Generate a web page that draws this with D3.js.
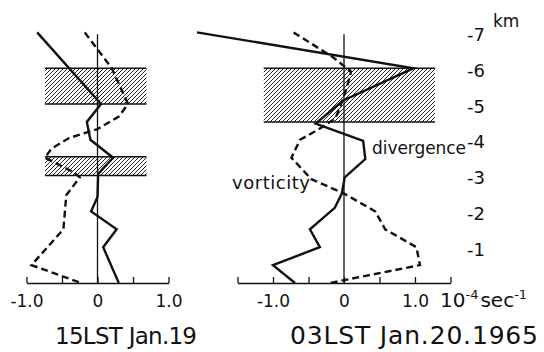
<!DOCTYPE html>
<html>
<head>
<meta charset="utf-8">
<script src="https://cdn.jsdelivr.net/npm/d3@7"></script>
<style>
  body { margin: 0; background: #fff; }
  text { font-family: "DejaVu Sans", sans-serif; fill: #111; }
</style>
</head>
<body>
<div id="chart"></div>
<script>
// heights in km, values in 10^-4 sec^-1
const leftDivH   = [7, 5, 4.5, 4.0, 3.5, 3.05, 2.4, 2.0, 1.5, 1.0, 0];
const leftDivV   = [-0.85, 0.05, -0.15, -0.1, 0.22, 0.01, 0, -0.09, 0.27, 0.08, 0.3];
const leftVorH   = [7, 6, 5, 4.65, 4.3, 4.05, 3.75, 3.5, 3.1, 2.95, 2.45, 1.5, 0.5, 0];
const leftVorV   = [-0.18, 0.2, 0.43, 0.3, 0, -0.4, -0.65, -0.74, -0.34, -0.25, -0.44, -0.48, -0.93, -0.23];
const rightDivH  = [7, 6, 5.1, 4.45, 3.97, 3.46, 2.95, 2.5, 2.1, 1.5, 1.0, 0.5, 0];
const rightDivV  = [-2.07, 0.98, -0.01, -0.4, 0.27, 0.3, 0.01, -0.03, -0.13, -0.48, -0.34, -1.0, -0.69];
const rightVorH  = [7, 6.3, 5.9, 5.4, 4.95, 4.6, 4.3, 4.0, 3.5, 2.9, 2.5, 2.0, 1.5, 1.0, 0.5, 0];
const rightVorV  = [-0.71, -0.15, 0.1, 0.03, -0.05, -0.12, -0.35, -0.62, -0.74, -0.46, 0, 0.44, 0.58, 1.02, 1.07, -0.2];

// shaded layers: [bottom km, top km, left value, right value]
const leftBands  = [[5, 6, -0.74, 0.69], [3, 3.53, -0.74, 0.69]];
const rightBands = [[4.5, 6, -1.13, 1.28]];

const heightTicks = [7, 6, 5, 4, 3, 2, 1];
const leftTicks  = [-1, -0.5, 0, 0.5, 1];
const rightTicks = [-1.5, -1, -0.5, 0, 0.5, 1, 1.5];
const tickLabels = {'-1': '-1.0', '0': '0', '1': '1.0'};

const W = 544, H = 352;
const svg = d3.select('#chart').append('svg').attr('width', W).attr('height', H);

const defs = svg.append('defs');
defs.append('pattern')
    .attr('id', 'hatch')
    .attr('patternUnits', 'userSpaceOnUse')
    .attr('width', 4).attr('height', 4)
  .append('path')
    .attr('d', 'M-1,1 l2,-2 M0,4 l4,-4 M3,5 l2,-2')
    .attr('stroke', '#222')
    .attr('stroke-width', 1);

const y = d3.scaleLinear().domain([0, 7]).range([283, 32.4]);
const xL = d3.scaleLinear().domain([-1, 1]).range([26.5, 168.5]);
const xR = d3.scaleLinear().domain([-1.5, 1.5]).range([237.5, 450.5]);

function zip(hs, vs) {
  return hs.map((h, i) => ({h: h, v: vs[i]}));
}

function panel(x, ticks, bands, divH, divV, vorH, vorV) {
  const g = svg.append('g');

  bands.forEach(b => {
    g.append('rect')
        .attr('x', x(b[2]))
        .attr('y', y(b[1]))
        .attr('width', x(b[3]) - x(b[2]))
        .attr('height', y(b[0]) - y(b[1]))
        .attr('fill', 'url(#hatch)');
    [b[0], b[1]].forEach(h => {
      g.append('line')
          .attr('x1', x(b[2])).attr('x2', x(b[3]))
          .attr('y1', y(h)).attr('y2', y(h))
          .attr('stroke', '#111')
          .attr('stroke-width', 1.5);
    });
  });

  // zero line
  g.append('line')
      .attr('x1', x(0)).attr('x2', x(0))
      .attr('y1', y(0)).attr('y2', y(6.95))
      .attr('stroke', '#111')
      .attr('stroke-width', 1.3);

  const axis = d3.axisBottom(x)
      .tickValues(ticks)
      .tickSizeInner(-6)
      .tickSizeOuter(0)
      .tickPadding(12)
      .tickFormat(d => tickLabels[String(d)] || '');

  const ax = g.append('g')
      .attr('transform', 'translate(0,' + y(0) + ')')
      .call(axis);
  ax.select('.domain').attr('stroke', '#111').attr('stroke-width', 1.5);
  ax.selectAll('.tick line').attr('stroke', '#111').attr('stroke-width', 1.3);
  ax.selectAll('.tick text')
      .attr('fill', '#111')
      .style('font-family', '"DejaVu Sans", sans-serif')
      .style('font-size', '17px');

  const line = d3.line()
      .x(d => x(d.v))
      .y(d => y(d.h));

  g.append('path')
      .datum(zip(divH, divV))
      .attr('fill', 'none')
      .attr('stroke', '#111')
      .attr('stroke-width', 2.4)
      .attr('d', line);

  g.append('path')
      .datum(zip(vorH, vorV))
      .attr('fill', 'none')
      .attr('stroke', '#111')
      .attr('stroke-width', 2.4)
      .attr('stroke-dasharray', '7,4')
      .attr('d', line);

  return g;
}

panel(xL, leftTicks, leftBands, leftDivH, leftDivV, leftVorH, leftVorV);
panel(xR, rightTicks, rightBands, rightDivH, rightDivV, rightVorH, rightVorV);

// height labels on the right
svg.selectAll('.hlabel')
    .data(heightTicks)
    .enter().append('text')
    .attr('class', 'hlabel')
    .attr('x', 467)
    .attr('y', d => y(d) + 2)
    .attr('dominant-baseline', 'central')
    .style('font-size', '18px')
    .text(d => '-' + d);

svg.append('text')
    .attr('x', 493).attr('y', 27)
    .style('font-size', '17px')
    .text('km');

// units
const unit = svg.append('text')
    .attr('x', 440).attr('y', y(0) + 24)
    .style('font-size', '20px');
unit.append('tspan').text('10');
unit.append('tspan').attr('dy', -8).style('font-size', '13px').text('-4');
unit.append('tspan').attr('dy', 8).attr('dx', 2).text('sec');
unit.append('tspan').attr('dy', -8).style('font-size', '13px').text('-1');

svg.append('text')
    .attr('x', 372).attr('y', y(3.7) + 3)
    .attr('textLength', 94)
    .style('font-size', '17px')
    .text('divergence');

svg.append('text')
    .attr('x', 232).attr('y', y(2.6) - 1)
    .attr('textLength', 78)
    .style('font-size', '18px')
    .text('vorticity');

svg.append('text')
    .attr('x', 55).attr('y', 344)
    .attr('textLength', 142)
    .style('font-size', '23px')
    .text('15LST Jan.19');

svg.append('text')
    .attr('x', 290).attr('y', 344)
    .attr('textLength', 248)
    .style('font-size', '25px')
    .text('03LST Jan.20.1965');
</script>
</body>
</html>
